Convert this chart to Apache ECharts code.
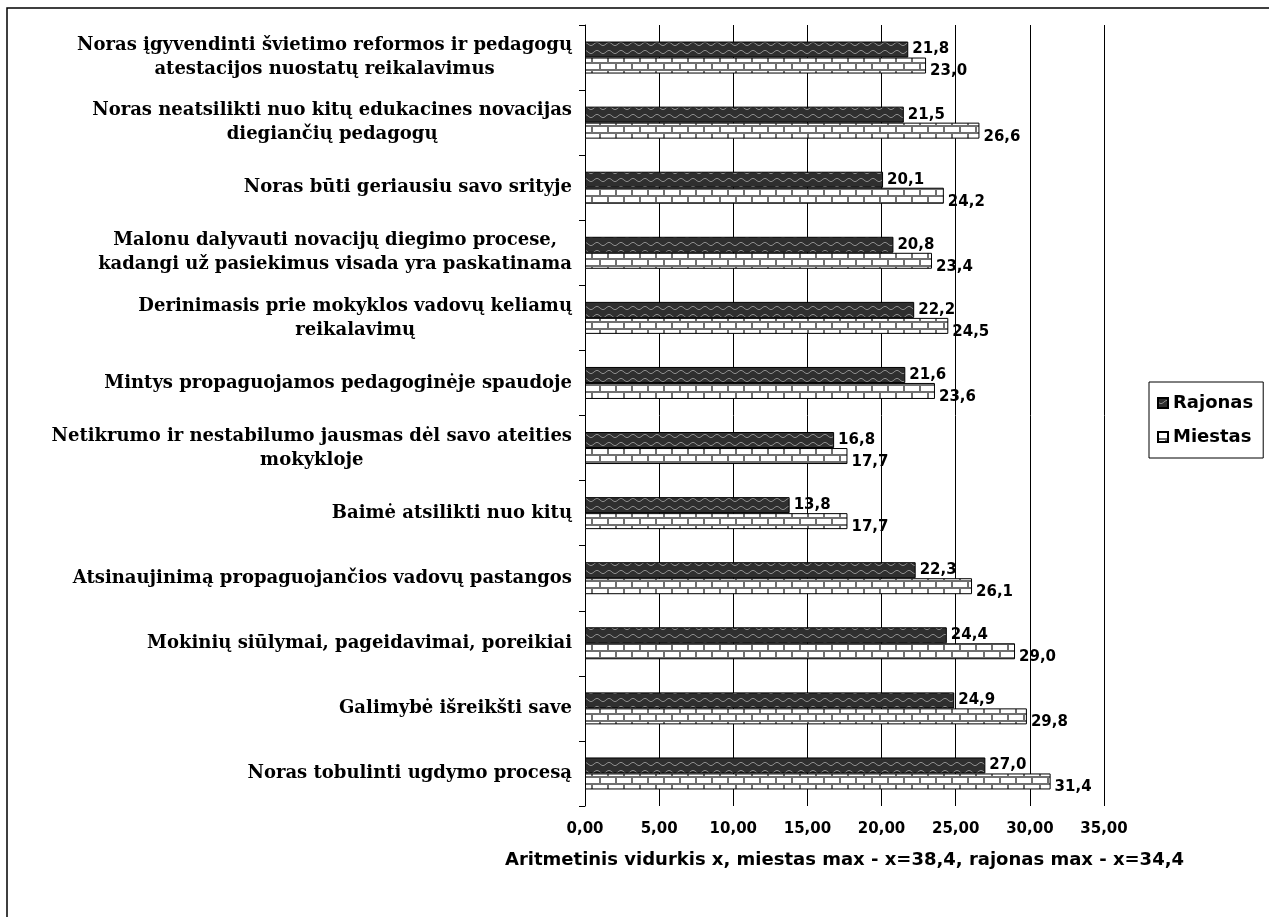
<!DOCTYPE html>
<html>
<head>
<meta charset="utf-8">
<script src="https://cdn.jsdelivr.net/npm/echarts@6/dist/echarts.min.js"></script>
<style>
html, body { margin: 0; padding: 0; background: #fff; }
#main { width: 1269px; height: 917px; }
</style>
</head>
<body>
<div id="main"></div>
<script>
// kategorijos (is virsaus i apacia)
var categories = [
    'Noras įgyvendinti švietimo reformos ir pedagogų\natestacijos nuostatų reikalavimus',
    'Noras neatsilikti nuo kitų edukacines novacijas\ndiegiančių pedagogų',
    'Noras būti geriausiu savo srityje',
    'Malonu dalyvauti novacijų diegimo procese,\nkadangi už pasiekimus visada yra paskatinama',
    'Derinimasis prie mokyklos vadovų keliamų\nreikalavimų',
    'Mintys propaguojamos pedagoginėje spaudoje',
    'Netikrumo ir nestabilumo jausmas dėl savo ateities\nmokykloje',
    'Baimė atsilikti nuo kitų',
    'Atsinaujinimą propaguojančios vadovų pastangos',
    'Mokinių siūlymai, pageidavimai, poreikiai',
    'Galimybė išreikšti save',
    'Noras tobulinti ugdymo procesą'
];
var rajonas = [21.8, 21.5, 20.1, 20.8, 22.2, 21.6, 16.8, 13.8, 22.3, 24.4, 24.9, 27.0];
var miestas = [23.0, 26.6, 24.2, 23.4, 24.5, 23.6, 17.7, 17.7, 26.1, 29.0, 29.8, 31.4];
var xTicks = [0, 5, 10, 15, 20, 25, 30, 35];
var seriesNames = ['Rajonas', 'Miestas'];
var axisTitle = 'Aritmetinis vidurkis x, miestas max - x=38,4, rajonas max - x=34,4';

// tamsus rastas su bangelemis
function wavePattern() {
    var c = document.createElement('canvas');
    c.width = 12; c.height = 8;
    var ctx = c.getContext('2d');
    ctx.fillStyle = '#2f2f2f';
    ctx.fillRect(0, 0, 12, 8);
    ctx.strokeStyle = '#8c8c8c';
    ctx.lineWidth = 1;
    ctx.beginPath();
    for (var x = 0; x <= 12; x++) {
        var y = 4 + 1.6 * Math.sin(x / 12 * Math.PI * 2);
        if (x == 0) ctx.moveTo(x, y); else ctx.lineTo(x, y);
    }
    ctx.stroke();
    return c;
}

// plytu rastas
function brickPattern() {
    var c = document.createElement('canvas');
    c.width = 16; c.height = 14;
    var ctx = c.getContext('2d');
    ctx.fillStyle = '#707070';
    ctx.fillRect(0, 0, 16, 14);
    ctx.fillStyle = '#ffffff';
    ctx.fillRect(1, 1, 14, 5);
    ctx.fillRect(-7, 8, 14, 5);
    ctx.fillRect(9, 8, 14, 5);
    return c;
}

function fmtAxis(v) {
    return v.toFixed(2).replace('.', ',');
}
function fmtLabel(p) {
    return p.value.toFixed(1).replace('.', ',');
}

var myChart = echarts.init(document.getElementById('main'));
var option = {
    animation: false,
    backgroundColor: '#fff',
    graphic: [{
        type: 'rect',
        shape: { x: 7, y: 8, width: 1280, height: 930 },
        style: { fill: null, stroke: '#000', lineWidth: 1.5 },
        silent: true
    }],
    legend: {
        data: seriesNames,
        orient: 'vertical',
        left: 1149,
        top: 382,
        padding: [12, 10, 12, 8],
        itemGap: 16,
        itemWidth: 10,
        itemHeight: 10,
        icon: 'rect',
        borderColor: '#000',
        borderWidth: 1,
        textStyle: {
            fontFamily: 'DejaVu Sans',
            fontWeight: 'bold',
            fontSize: 18,
            color: '#000'
        }
    },
    grid: {
        left: 585,
        right: 165,
        top: 25,
        bottom: 111
    },
    xAxis: {
        type: 'value',
        min: xTicks[0],
        max: xTicks[xTicks.length - 1],
        interval: 5,
        axisLine: { show: false },
        axisTick: { show: false },
        splitLine: { show: true, lineStyle: { color: '#000', width: 1 } },
        axisLabel: {
            formatter: fmtAxis,
            margin: 16,
            fontFamily: 'DejaVu Sans',
            fontWeight: 'bold',
            fontSize: 15,
            color: '#000'
        },
        name: axisTitle,
        nameLocation: 'middle',
        nameGap: 45,
        nameTextStyle: {
            fontFamily: 'DejaVu Sans',
            fontWeight: 'bold',
            fontSize: 18,
            color: '#000'
        }
    },
    yAxis: {
        type: 'category',
        data: categories,
        inverse: true,
        axisLine: { show: true, lineStyle: { color: '#000', width: 1 } },
        axisTick: { show: true, length: 6, lineStyle: { color: '#000' } },
        splitLine: { show: false },
        axisLabel: {
            interval: 0,
            margin: 13,
            formatter: function (v) {
                return v.split('\n').map(function (s) { return '{c|' + s + '}'; }).join('\n');
            },
            rich: {
                c: {
                    align: 'center',
                    fontFamily: 'DejaVu Serif',
                    fontWeight: 'bold',
                    fontSize: 18,
                    lineHeight: 24,
                    color: '#000'
                }
            }
        }
    },
    series: [{
        name: seriesNames[0],
        type: 'bar',
        data: rajonas,
        barWidth: 16,
        barGap: '0%',
        itemStyle: {
            color: { image: wavePattern(), repeat: 'repeat' },
            borderColor: '#000',
            borderWidth: 1
        },
        label: {
            show: true,
            position: 'right',
            distance: 4,
            formatter: fmtLabel,
            fontFamily: 'DejaVu Sans',
            fontWeight: 'bold',
            fontSize: 15,
            color: '#000'
        }
    }, {
        name: seriesNames[1],
        type: 'bar',
        data: miestas,
        barWidth: 16,
        barGap: '0%',
        itemStyle: {
            color: { image: brickPattern(), repeat: 'repeat' },
            borderColor: '#000',
            borderWidth: 1
        },
        label: {
            show: true,
            position: 'right',
            distance: 4,
            offset: [0, 6],
            formatter: fmtLabel,
            fontFamily: 'DejaVu Sans',
            fontWeight: 'bold',
            fontSize: 15,
            color: '#000'
        }
    }]
};
myChart.setOption(option);
</script>
</body>
</html>
